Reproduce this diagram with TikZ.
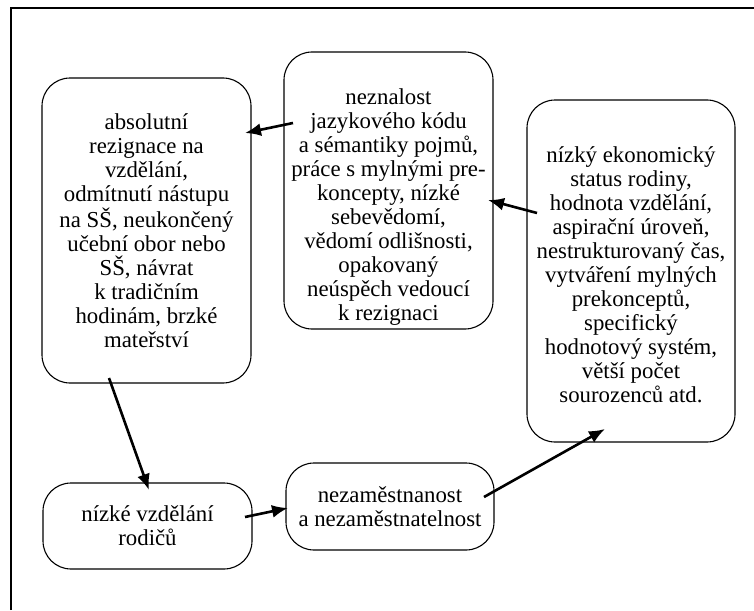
\documentclass[tikz,border=0pt]{standalone}
\usepackage{fontspec}
\setmainfont{Liberation Serif}
\usetikzlibrary{arrows.meta}
\begin{document}
\begin{tikzpicture}[x=1pt,y=-1pt,
  box/.style={draw, line width=1.1pt, rounded corners=28pt, inner sep=0pt, outer sep=0pt, align=center,
    font=\fontsize{22.8}{24}\selectfont},
  txt/.style={inner sep=0pt, align=center, font=\fontsize{22.8}{24}\selectfont},
  arr/.style={line width=2.6pt, -{Latex[length=16pt,width=13pt]}},
  frame/.style={line width=1.4pt}]
\useasboundingbox (0,0) rectangle (754,610);
\coordinate (fa) at (11,610);
\coordinate (fb) at (11,8);
\coordinate (fc) at (754,8);
\draw[frame] (fa) -- (fb) -- (fc);

\node[box, minimum width=209pt, minimum height=305pt] (L) at (146.5,230.5)
  {absolutní\\rezignace na\\vzdělání,\\odmítnutí nástupu\\na SŠ, neukončený\\učební obor nebo\\SŠ, návrat\\k~tradičním\\hodinám, brzké\\mateřství};
\node[box, minimum width=209pt, minimum height=277pt] (M) at (388.5,190.5) {};
\node[txt] (Mt) at (388.5,207) {neznalost\\jazykového kódu\\a sémantiky pojmů,\\práce s mylnými pre-\\koncepty, nízké\\sebevědomí,\\vědomí odlišnosti,\\opakovaný\\neúspěch vedoucí\\k~rezignaci};
\node[box, minimum width=208pt, minimum height=342pt] (R) at (631,271) {};
\node[txt] (Rt) at (631,274.5) {nízký ekonomický\\status rodiny,\\hodnota vzdělání,\\aspirační úroveň,\\nestrukturovaný čas,\\vytváření mylných\\prekonceptů,\\specifický\\hodnotový systém,\\větší počet\\sourozenců atd.};
\node[box, minimum width=209pt, minimum height=86pt] (B1) at (147.5,526) {nízké vzdělání\\rodičů};
\node[box, minimum width=208pt, minimum height=87pt] (B2) at (390,506.5) {nezaměstnanost\\a nezaměstnatelnost};

\draw[arr] ([shift={(9,-67.5)}]M.west) -- ([shift={(-6,-97.5)}]L.east);
\draw[arr] ([shift={(10,-58)}]R.west) -- ([shift={(-5,9.5)}]M.east);
\draw[arr] ([shift={(-37.5,-5)}]L.south) -- ([shift={(1.5,7)}]B1.north);
\draw[arr] ([shift={(-7,-9)}]B1.east) -- ([shift={(2,1.5)}]B2.west);
\draw[arr] ([shift={(-10,-9.5)}]B2.east) -- ([shift={(-26,-13)}]R.south);
\end{tikzpicture}
\end{document}
